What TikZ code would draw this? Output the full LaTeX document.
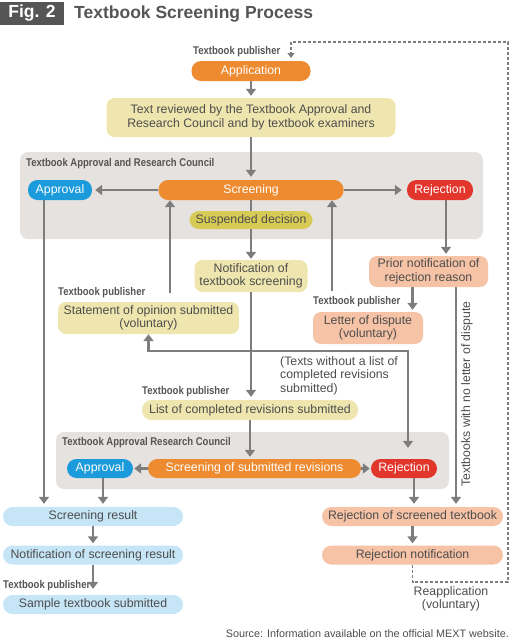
\documentclass[tikz,border=0pt]{standalone}
\usepackage{fontspec}
\setmainfont{Liberation Sans}
\newfontfamily\condfont[FakeStretch=0.85]{Liberation Sans}
\usetikzlibrary{arrows.meta, calc}
\definecolor{scorange}{HTML}{EE8A2F}
\definecolor{scblue}{HTML}{1B9BDB}
\definecolor{scred}{HTML}{E2352B}
\definecolor{khaki}{HTML}{EEE6AE}
\definecolor{dkkhaki}{HTML}{D8CB55}
\definecolor{salmon}{HTML}{F6C3A6}
\definecolor{skyblue}{HTML}{C6E5F6}
\definecolor{cgray}{HTML}{E6E2DF}
\definecolor{argray}{HTML}{7D7D7D}
\definecolor{txgray}{HTML}{4D4D4D}
\definecolor{figgray}{HTML}{555555}

\begin{document}
\begin{tikzpicture}[x=1pt, y=-1pt,
  >={Triangle[length=7pt, width=10pt]},
  every node/.style={font=\fontsize{12.3}{13.5}\selectfont, text=txgray},
  pill/.style={rounded corners=9.5pt, inner sep=0pt, minimum height=20pt, align=center},
  card/.style={rounded corners=8pt, inner sep=0pt, minimum height=32pt, align=center},
  strong/.style={text=white},
  flow/.style={argray, line width=2.6pt, ->},
  plain/.style={argray, line width=2.6pt},
  who/.style={font=\fontsize{11.2}{12}\selectfont\condfont\bfseries, text=figgray, inner sep=0pt, anchor=west},
  council/.style={fill=cgray, rounded corners=8pt}]

\useasboundingbox (0,0) rectangle (510,641);

% Title
\fill[figgray] (0,2) rectangle (64,25);
\node[strong, font=\fontsize{17.5}{19}\selectfont\bfseries] (fig) at (32,13.5) {Fig. 2};
\node[font=\fontsize{17.5}{19}\selectfont\bfseries, text=figgray, anchor=west, inner sep=0pt] (title) at (74,14) {Textbook Screening Process};

% Council backgrounds
\fill[council] (20,152) rectangle (483,239);
\node[who] (counA) at (26,164) {Textbook Approval and Research Council};
\fill[council] (56,432) rectangle (449,489);
\node[who] (counB) at (62,443) {Textbook Approval Research Council};

% Application and review
\node[who] (pubA) at (193,52) {Textbook publisher};
\node[pill, strong, fill=scorange, minimum width=119pt] (app) at (251,71) {Application};
\node[card, fill=khaki, minimum width=289pt, minimum height=39pt] (review) at (251,117.5)
  {Text reviewed by the Textbook Approval and\\Research Council and by textbook examiners};

% First screening
\node[pill, strong, fill=scblue, minimum width=64pt] (approvalA) at (60,190) {Approval};
\node[pill, strong, fill=scorange, minimum width=185pt] (screenA) at (251,190) {Screening};
\node[pill, strong, fill=scred, minimum width=66pt] (rejectA) at (440,190) {Rejection};
\node[pill, fill=dkkhaki, minimum width=123pt, minimum height=18pt] (suspend) at (251,220) {Suspended decision};

% Notifications and replies
\node[card, fill=khaki, minimum width=113pt] (notify) at (251,276) {Notification of\\textbook screening};
\node[card, fill=salmon, minimum width=119pt, minimum height=31pt] (prior) at (428.5,271.5) {Prior notification of\\rejection reason};
\node[who] (pubB) at (58,293) {Textbook publisher};
\node[card, fill=khaki, minimum width=181pt] (opinion) at (148.5,318) {Statement of opinion submitted\\(voluntary)};
\node[who] (pubC) at (313,302) {Textbook publisher};
\node[card, fill=salmon, minimum width=110pt] (letter) at (368,328) {Letter of dispute\\(voluntary)};
\node[anchor=north west, align=left, inner sep=0pt] (notext) at (280,356)
  {(Texts without a list of\\completed revisions\\submitted)};
\node[rotate=90, inner sep=0pt] (nodispute) at (467,394) {Textbooks with no letter of dispute};

% Revisions
\node[who] (pubD) at (142,392) {Textbook publisher};
\node[pill, fill=khaki, minimum width=216pt] (list) at (250,410) {List of completed revisions submitted};
\node[pill, strong, fill=scblue, minimum width=66pt, minimum height=19pt] (approvalB) at (100,468.5) {Approval};
\node[pill, strong, fill=scorange, minimum width=213pt, minimum height=19pt] (screenB) at (254.5,468.5) {Screening of submitted revisions};
\node[pill, strong, fill=scred, minimum width=66pt, minimum height=19pt] (rejectB) at (404,468.5) {Rejection};

% Results
\node[pill, fill=skyblue, minimum width=180pt, minimum height=19pt] (result) at (93,516.5) {Screening result};
\node[pill, fill=skyblue, minimum width=180pt, minimum height=19pt] (notifres) at (93,555) {Notification of screening result};
\node[who] (pubE) at (3,586) {Textbook publisher};
\node[pill, fill=skyblue, minimum width=180pt, minimum height=19pt] (sample) at (93,604.5) {Sample textbook submitted};
\node[pill, fill=salmon, minimum width=181pt, minimum height=19pt] (rejscr) at (412.5,516.5) {Rejection of screened textbook};
\node[pill, fill=salmon, minimum width=181pt, minimum height=19pt] (rejnot) at (412.5,555) {Rejection notification};
\node[align=center, inner sep=0pt] (reapp) at (451,599) {Reapplication\\(voluntary)};
\node[anchor=east, inner sep=0pt, font=\fontsize{10.8}{12}\selectfont] (source) at (509,634)
  {Source: Information available on the official MEXT website.};

% Connectors
\draw[flow, shorten >=2pt] (app) -- (review);
\draw[flow, shorten >=3pt] (review) -- (screenA);
\draw[flow, shorten >=3pt] (screenA) -- (approvalA);
\draw[flow, shorten >=5pt] (screenA) -- (rejectA);
\draw[plain] (screenA) -- (suspend);
\draw[flow, shorten >=1pt] (suspend) -- (notify);
\draw[flow, shorten >=2pt] ([xshift=6pt]rejectA.south) -- ([xshift=6pt]rejectA.south |- prior.north);

\coordinate (upL) at (170,293);
\coordinate (upR) at (332,291);
\draw[flow] (upL) -- (upL |- screenA.south);
\draw[flow] (upR) -- (upR |- screenA.south);
\draw[flow, shorten >=2pt] ([xshift=-16pt]prior.south) -- ([xshift=-16pt]prior.south |- letter.north);

\coordinate (fork) at (251,351);
\draw[flow, shorten >=3pt] (notify.south) -- (notify.south |- list.north);
\draw[flow] (fork) -| (opinion.south);
\draw[flow, shorten >=11pt] (fork) -| ([xshift=4pt]rejectB.north);

\draw[flow, shorten >=2pt] (list.south) -- (list.south |- screenB.north);
\draw[flow, shorten >=1pt] (screenB) -- (approvalB);
\draw[flow, shorten >=1pt] (screenB) -- (rejectB);

\draw[flow, shorten >=3pt] ([xshift=-16pt]approvalA.south) -- ([xshift=-16pt]approvalA.south |- result.north);
\draw[flow, shorten >=3pt] ([xshift=3pt]approvalB.south) -- ([xshift=3pt]approvalB.south |- result.north);
\draw[flow, shorten >=2pt] (result) -- (notifres);
\draw[flow, shorten >=6pt] (notifres) -- (sample);

\draw[flow, shorten >=3pt] ([xshift=10pt]rejectB.south) -- ([xshift=10pt]rejectB.south |- rejscr.north);
\draw[flow, shorten >=3pt] ([xshift=27.5pt]prior.south) -- ([xshift=27.5pt]prior.south |- rejscr.north);
\draw[flow, shorten >=2pt] (rejscr) -- (rejnot);

% Reapplication loop
\coordinate (backin) at (291,58);
\draw[argray, line width=1.2pt, densely dashed, -{Triangle[length=5pt, width=7pt]}]
  (rejnot.south) |- (508,582) |- (291,42) -- (backin);

\end{tikzpicture}
\end{document}
